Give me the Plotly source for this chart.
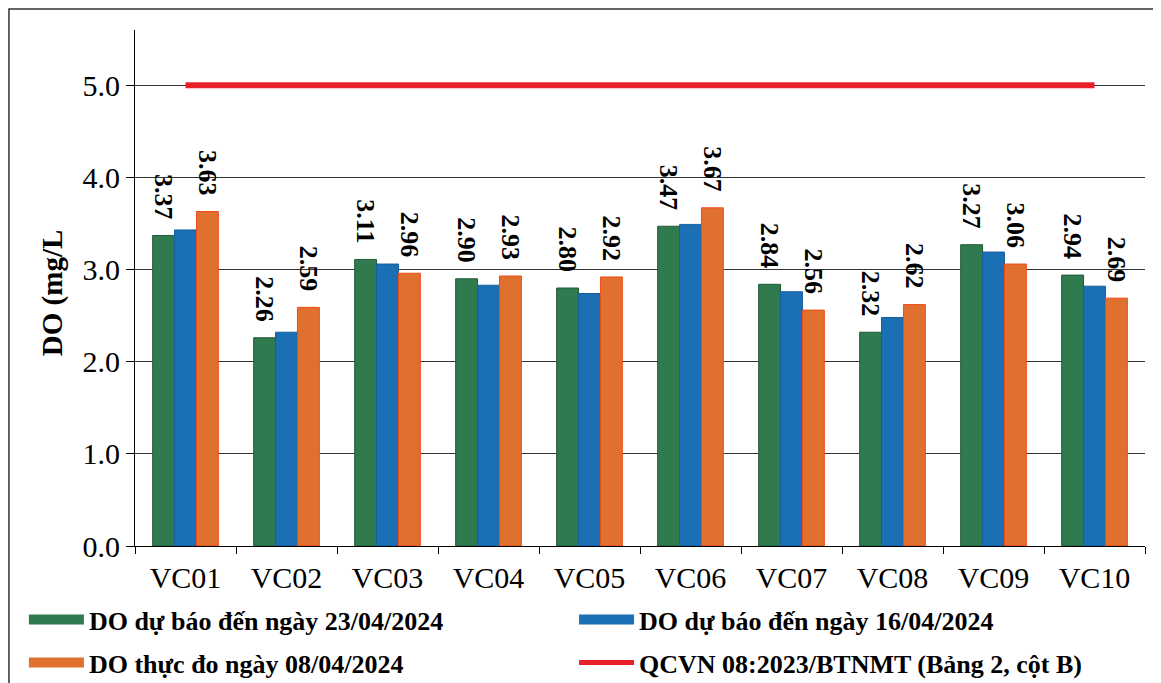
import plotly.graph_objects as go

stations = ["VC01", "VC02", "VC03", "VC04", "VC05", "VC06", "VC07", "VC08", "VC09", "VC10"]
do_forecast_2304 = [3.37, 2.26, 3.11, 2.90, 2.80, 3.47, 2.84, 2.32, 3.27, 2.94]
do_forecast_1604 = [3.43, 2.32, 3.06, 2.83, 2.74, 3.49, 2.76, 2.48, 3.19, 2.82]
do_measured_0804 = [3.63, 2.59, 2.96, 2.93, 2.92, 3.67, 2.56, 2.62, 3.06, 2.69]
qcvn_limit = 5.0
y_ticks = [0, 1, 2, 3, 4, 5]

name_2304 = "DO dự báo đến ngày 23/04/2024"
name_1604 = "DO dự báo đến ngày 16/04/2024"
name_0804 = "DO thực đo ngày 08/04/2024"
name_qcvn = "QCVN 08:2023/BTNMT (Bảng 2, cột B)"
y_title = "DO (mg/L"

c_green = "#2f7a4f"
c_blue = "#1a6fb5"
c_orange = "#e0702e"
c_red = "#e8212b"

SERIF = "Liberation Serif"
lbl_font = dict(family=SERIF, size=26, color="black", weight="bold")

def labels(vals):
    return [f"{v:.2f}\u00a0\u00a0" for v in vals]

fig = go.Figure()
fig.add_trace(go.Bar(
    x=stations, y=do_forecast_2304, name=name_2304, showlegend=False,
    marker=dict(color=c_green, line=dict(color="#1f5a36", width=1)),
    text=labels(do_forecast_2304), textposition="outside",
    textangle=90, textfont=lbl_font, cliponaxis=False, constraintext="none"))
fig.add_trace(go.Bar(
    x=stations, y=do_forecast_1604, name=name_1604, showlegend=False,
    marker=dict(color=c_blue, line=dict(color="#15609e", width=1))))
fig.add_trace(go.Bar(
    x=stations, y=do_measured_0804, name=name_0804, showlegend=False,
    marker=dict(color=c_orange, line=dict(color="#f04a1a", width=1)),
    text=labels(do_measured_0804), textposition="outside",
    textangle=90, textfont=lbl_font, cliponaxis=False, constraintext="none"))
fig.add_trace(go.Scatter(
    x=[stations[0], stations[-1]], y=[qcvn_limit, qcvn_limit], mode="lines",
    name=name_qcvn, showlegend=False,
    line=dict(color=c_red, width=6)))

# legend proxies, one legend box per entry (2 x 2 layout)
legend_slots = [
    (name_2304, c_green, 10, "legend", -0.110, 0.1289),
    (name_1604, c_blue, 10, "legend2", 0.4347, 0.1289),
    (name_0804, c_orange, 10, "legend3", -0.110, 0.0652),
    (name_qcvn, c_red, 5, "legend4", 0.4347, 0.0652),
]
leg_common = dict(orientation="h", xanchor="left", yanchor="top", yref="container",
                  font=dict(family=SERIF, size=26, color="black", weight="bold"),
                  itemwidth=55, bgcolor="rgba(0,0,0,0)", itemclick=False)
legend_layout = {}
for nm, col, w, lg, lx, ly in legend_slots:
    fig.add_trace(go.Scatter(x=[None], y=[None], mode="lines", name=nm,
                             line=dict(color=col, width=w), legend=lg))
    legend_layout[lg] = dict(x=lx, y=ly, **leg_common)

fig.update_layout(
    width=1153, height=675,
    margin=dict(l=127, r=16, t=22, b=137, autoexpand=False),
    paper_bgcolor="white", plot_bgcolor="white",
    barmode="group", bargap=0.35, bargroupgap=0,
    font=dict(family=SERIF, size=30, color="black"),
    xaxis=dict(showline=True, linecolor="black", linewidth=1,
               ticks="outside", tickson="boundaries", ticklen=7, tickcolor="black",
               ticklabelstandoff=5,
               tickfont=dict(family=SERIF, size=30), showgrid=False),
    yaxis=dict(range=[0, 5.6], tickvals=y_ticks, tickformat=".1f",
               showline=True, linecolor="black", linewidth=1,
               ticks="outside", ticklen=8, tickcolor="black",
               tickfont=dict(family=SERIF, size=30),
               showgrid=True, gridcolor="#333", gridwidth=1, zeroline=False),
    annotations=[dict(text=f"<b>{y_title}</b>", xref="paper", yref="paper",
                      x=-0.0822, y=0.49, xanchor="center", yanchor="middle",
                      textangle=-90, showarrow=False,
                      font=dict(family=SERIF, size=29, color="black"))],
    shapes=[dict(type="rect", xref="paper", yref="paper",
                 x0=-0.1248, x1=1.05, y0=-0.3, y1=1.0407,
                 line=dict(color="#333", width=1.5), fillcolor="rgba(0,0,0,0)", layer="below")],
    **legend_layout,
)

fig.write_html("out.html")
